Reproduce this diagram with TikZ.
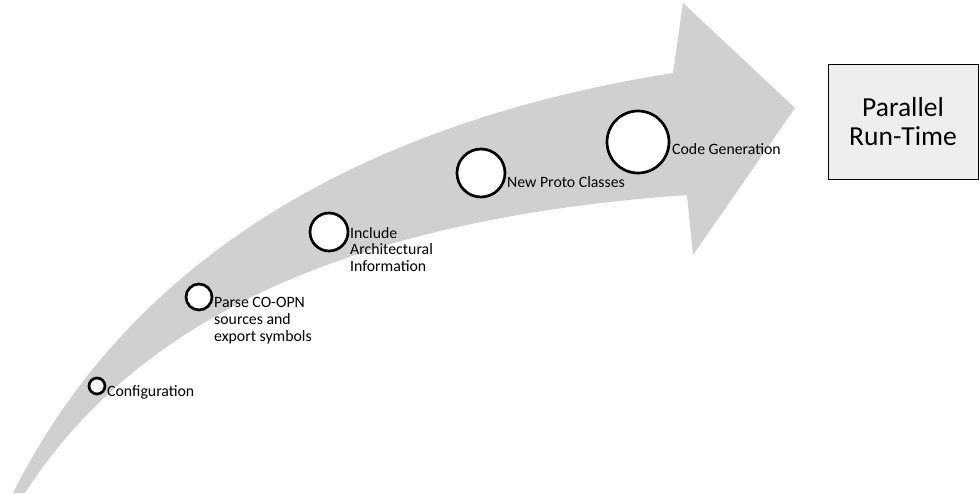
\documentclass[tikz,border=0pt]{standalone}
\usepackage{fontspec}
\setmainfont{Carlito}
\definecolor{arrowgray}{RGB}{208,208,208}
\definecolor{boxgray}{RGB}{238,238,238}
\tikzset{
  stage/.style={circle, draw=black, line width=2.7pt, fill=white, inner sep=0pt},
  stagelabel/.style={inner sep=0pt, align=left, font=\fontsize{15.8}{16.8}\selectfont},
  runtime/.style={draw=black, line width=0.8pt, fill=boxgray, inner sep=0pt,
    align=center, font=\fontsize{27.5}{29}\selectfont}
}
\begin{document}
\begin{tikzpicture}[x=1pt,y=-1pt]
  \useasboundingbox (0,0) rectangle (979,493);
  % curved progress arrow
  \fill[arrowgray]
    (13,493) .. controls (140,240) and (390,118) .. (673,73)
    -- (683,3) -- (795,108) -- (693,255) -- (687,195)
    .. controls (330,220) and (130,330) .. (25,493) -- cycle;
  % stages along the arrow, growing in size
  \node[stage, minimum size=16pt] (c1) at (97,386) {};
  \node[stage, minimum size=26pt] (c2) at (199,297) {};
  \node[stage, minimum size=38pt] (c3) at (329,232) {};
  \node[stage, minimum size=48pt] (c4) at (481,173) {};
  \node[stage, minimum size=62pt] (c5) at (638,142) {};
  % stage labels
  \node[stagelabel, anchor=west] (l1) at (107,392) {Configuration};
  \node[stagelabel, anchor=north west] (l2) at (214,297) {Parse CO-OPN\\sources and\\export symbols};
  \node[stagelabel, anchor=north west] (l3) at (350,227) {Include\\Architectural\\Information};
  \node[stagelabel, anchor=west] (l4) at (507,182) {New Proto Classes};
  \node[stagelabel, anchor=west] (l5) at (672,149) {Code Generation};
  % target platform
  \node[runtime, minimum width=150pt, minimum height=115pt] (rt) at (903,121.5) {Parallel\\Run-Time};
\end{tikzpicture}
\end{document}
